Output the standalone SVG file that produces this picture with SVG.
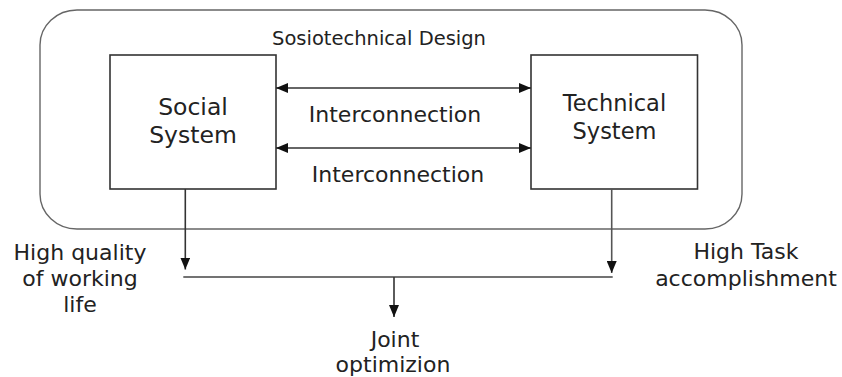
<svg xmlns="http://www.w3.org/2000/svg" width="842" height="377" viewBox="0 0 842 377">
<style>
text{font-family:"DejaVu Sans","Verdana",sans-serif;fill:#222;text-anchor:middle}
.lbl{font-size:22px}
.box{fill:none;stroke:#333;stroke-width:1.6}
.frame{fill:none;stroke:#666;stroke-width:1.4}
.ln{fill:none;stroke:#333;stroke-width:1.6}
</style>
<defs>
<marker id="ah" viewBox="0 0 12 10" refX="12" refY="5" markerWidth="12" markerHeight="10" markerUnits="userSpaceOnUse" orient="auto-start-reverse">
<path d="M0,0 L12,5 L0,10 Z" fill="#111"/>
</marker>
</defs>
<rect width="842" height="377" fill="#fff"/>
<g id="frame">
<rect class="frame" x="40" y="10" width="702" height="219" rx="37" ry="35"/>
<text x="379" y="45" style="font-size:19.5px">Sosiotechnical Design</text>
</g>
<g id="social">
<rect class="box" x="110" y="55" width="166" height="134"/>
<text x="193" y="115" style="font-size:23.5px">Social</text>
<text x="193" y="143" style="font-size:23.5px">System</text>
</g>
<g id="technical">
<rect class="box" x="531" y="55" width="166.5" height="134"/>
<text x="614.5" y="111" style="font-size:22.5px">Technical</text>
<text x="614.5" y="138.5" style="font-size:22.5px">System</text>
</g>
<g id="labels">
<text class="lbl" x="395" y="121.5">Interconnection</text>
<text class="lbl" x="398" y="182">Interconnection</text>
<text class="lbl" x="80" y="260">High quality</text>
<text class="lbl" x="80" y="286">of working</text>
<text class="lbl" x="80" y="311.5">life</text>
<text class="lbl" x="746" y="259">High Task</text>
<text class="lbl" x="746" y="286">accomplishment</text>
<text class="lbl" x="395" y="346.5">Joint</text>
<text class="lbl" x="393" y="371.5">optimizion</text>
</g>
<g id="connectors">
<line class="ln" x1="276" y1="88" x2="531" y2="88" marker-start="url(#ah)" marker-end="url(#ah)"/>
<line class="ln" x1="276" y1="148" x2="531" y2="148" marker-start="url(#ah)" marker-end="url(#ah)"/>
<line class="ln" x1="185.3" y1="189" x2="185.3" y2="269.5" marker-end="url(#ah)"/>
<line class="ln" x1="611.7" y1="189" x2="611.7" y2="273" marker-end="url(#ah)" style="stroke:#555"/>
<line class="ln" x1="183.3" y1="277" x2="612.7" y2="277" style="stroke:#444"/>
<line class="ln" x1="394" y1="277" x2="394" y2="317" marker-end="url(#ah)"/>
</g>
</svg>
